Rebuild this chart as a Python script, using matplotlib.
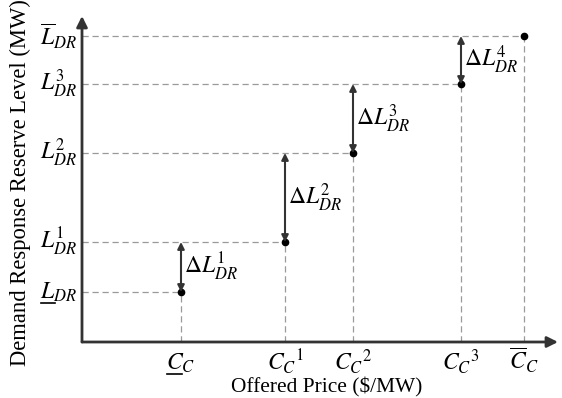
import matplotlib
matplotlib.use('Agg')
import matplotlib.pyplot as plt
from matplotlib.lines import Line2D
from matplotlib.transforms import IdentityTransform

plt.rcParams['font.family'] = 'Liberation Serif'
plt.rcParams['mathtext.fontset'] = 'stix'

# offered price break points and reserve levels (arbitrary units)
price = [0.99, 2.03, 2.71, 3.79, 4.42]
level = [0.50, 1.00, 1.89, 2.58, 3.06]
x_labels = [r'$C_C$', r'$C_C{}^{1}$', r'$C_C{}^{2}$', r'$C_C{}^{3}$', r'$\overline{C}_C$']
y_labels = [r'$L_{DR}$', r'$L_{DR}^{1}$', r'$L_{DR}^{2}$', r'$L_{DR}^{3}$', r'$\overline{L}_{DR}$']
delta_labels = [r'$\Delta L_{DR}^{%d}$' % k for k in (1, 2, 3, 4)]

dark = '#333333'
dash = '#9a9a9a'

fig = plt.figure(figsize=(5.62, 3.98), dpi=100)
ax = fig.add_axes([82/562, 56/398, 476/562, 326/398])
ax.set_xlim(0, 4.76)
ax.set_ylim(0, 3.26)
for s in ax.spines.values():
    s.set_visible(False)
ax.set_xticks([])
ax.set_yticks([])

# axes with arrow heads
for tip in ((1, 0), (0, 1)):
    ax.annotate('', xy=tip, xytext=(0, 0), xycoords='axes fraction',
                arrowprops=dict(arrowstyle='-|>', lw=2, color=dark, mutation_scale=16,
                                shrinkA=0, shrinkB=0))

# dashed guides + points
for xp, yp in zip(price, level):
    ax.plot([0, xp], [yp, yp], ls=(0, (5, 3)), color=dash, lw=0.9, zorder=1)
    ax.plot([xp, xp], [0, yp], ls=(0, (5, 3)), color=dash, lw=0.9, zorder=1)
ax.plot(price, level, 'o', color='black', ms=4.5, zorder=3)

# step arrows
for k in range(1, len(level)):
    xp = price[k - 1]
    ax.annotate('', xy=(xp, level[k]), xytext=(xp, level[k - 1]),
                arrowprops=dict(arrowstyle='<|-|>', lw=1.5, color=dark,
                                mutation_scale=10, shrinkA=0, shrinkB=0))
    ax.text(xp + 0.03, (level[k] + level[k - 1]) / 2, delta_labels[k - 1],
            fontsize=17, ha='left', va='center')

# tick labels
xt = [ax.text(xp, -0.086, s, fontsize=17, ha='center', va='baseline',
              transform=ax.get_xaxis_transform())
      for xp, s in zip(price, x_labels)]
yt = [ax.text(-0.05, yp, s, fontsize=17, ha='right', va='center')
      for yp, s in zip(level, y_labels)]

ax.text(0.515, -0.14, 'Offered Price ($/MW)', transform=ax.transAxes,
        fontsize=15.4, ha='center', va='center')
ax.text(-0.13, 0.49, 'Demand Response Reserve Level (MW)', transform=ax.transAxes,
        fontsize=16.3, ha='center', va='center', rotation=90)

# underlines for the lower bounds (mathtext has no \underline)
fig.canvas.draw()
r = fig.canvas.get_renderer()
for t, frac in ((yt[0], 0.40), (xt[0], 0.55)):
    bb = t.get_window_extent(r)
    fig.add_artist(Line2D([bb.x0 + 1, bb.x0 + frac * bb.width], [bb.y0 + 1, bb.y0 + 1],
                          transform=IdentityTransform(), color='black', lw=1.2))

fig.savefig('out.png', dpi=100)
